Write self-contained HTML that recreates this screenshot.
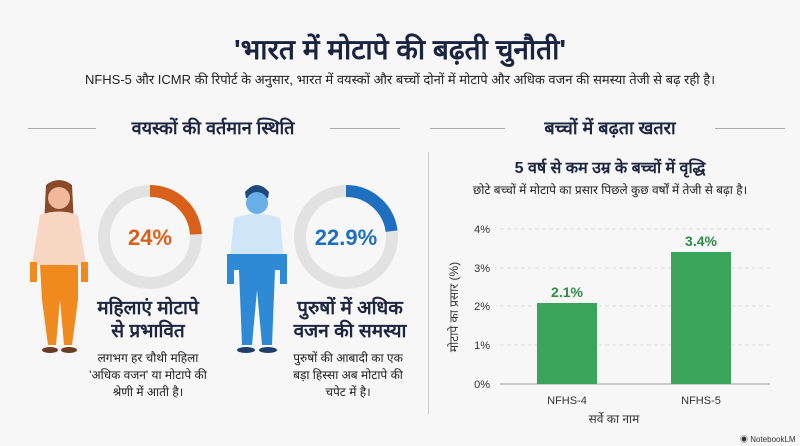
<!DOCTYPE html>
<html><head><meta charset="utf-8"><style>
body{margin:0;width:800px;height:446px;background:#f7f7f7;font-family:"Liberation Sans","Noto Sans CJK SC",sans-serif;color:#1d2540;position:relative;overflow:hidden}
.a{position:absolute;white-space:nowrap}
.c{transform:translateX(-50%);text-align:center}
</style></head><body>
<div class="a c" style="left:400px;top:30px;font-size:28px;font-weight:bold;color:#1a2340">'भारत में मोटापे की बढ़ती चुनौती'</div>
<div class="a c" style="left:400px;top:70px;font-size:13px;color:#222">NFHS-5 और ICMR की रिपोर्ट के अनुसार, भारत में वयस्कों और बच्चों दोनों में मोटापे और अधिक वजन की समस्या तेजी से बढ़ रही है।</div>
<div class="a" style="left:28px;top:128px;width:68px;height:1px;background:#aaa"></div>
<div class="a" style="left:330px;top:128px;width:70px;height:1px;background:#aaa"></div>
<div class="a c" style="left:213px;top:116px;font-size:18px;font-weight:bold">वयस्कों की वर्तमान स्थिति</div>
<div class="a" style="left:430px;top:128px;width:75px;height:1px;background:#aaa"></div>
<div class="a" style="left:715px;top:128px;width:70px;height:1px;background:#aaa"></div>
<div class="a c" style="left:610px;top:116px;font-size:18px;font-weight:bold">बच्चों में बढ़ता खतरा</div>
<div class="a" style="left:428px;top:152px;width:1px;height:262px;background:#ccc"></div>
<svg class="a" style="left:0;top:0" width="800" height="446">
<!-- woman -->
<path d="M46 185 Q59 175 72 185 L75 245 L43 245 Z" fill="#8a4a2a"/>
<circle cx="59" cy="198" r="11" fill="#f1b99a"/>
<path d="M40 215 Q59 208 78 215 L86 265 L80 265 L78 265 L78 265 L40 265 L32 265 Z" fill="#f8d6c4"/>
<path d="M40 265 L78 265 L78 300 L72 345 L64 345 L60 300 L56 345 L48 345 L42 300 Z" fill="#f08a1e"/>
<rect x="30" y="262" width="7" height="20" fill="#f08a1e"/><rect x="81" y="262" width="7" height="20" fill="#f08a1e"/>
<ellipse cx="50" cy="350" rx="8" ry="3" fill="#6a3b22"/><ellipse cx="69" cy="350" rx="8" ry="3" fill="#6a3b22"/>
<!-- man -->
<path d="M245 192 Q257 178 269 192 L268 198 L246 198 Z" fill="#1d4a7a"/>
<circle cx="257" cy="203" r="11" fill="#6aaee8"/>
<path d="M234 218 Q257 210 280 218 L285 270 L229 270 Z" fill="#cfe6f8"/>
<path d="M231 254 L283 254 L283 270 L275 270 L272 345 L262 345 L257 290 L252 345 L242 345 L239 270 L231 270 Z" fill="#2f8ad6"/>
<rect x="227" y="254" width="7" height="30" fill="#2f8ad6"/><rect x="280" y="254" width="7" height="30" fill="#2f8ad6"/>
<ellipse cx="246" cy="350" rx="9" ry="3" fill="#1d3f6a"/><ellipse cx="268" cy="350" rx="9" ry="3" fill="#1d3f6a"/>
<!-- donuts -->
<circle cx="150" cy="237" r="46" fill="none" stroke="#e2e2e2" stroke-width="12"/>
<circle cx="150" cy="237" r="46" fill="none" stroke="#d9601a" stroke-width="12" stroke-dasharray="69.4 300" transform="rotate(-90 150 237)"/>
<circle cx="346" cy="237" r="46" fill="none" stroke="#e2e2e2" stroke-width="12"/>
<circle cx="346" cy="237" r="46" fill="none" stroke="#1f6fc0" stroke-width="12" stroke-dasharray="66.2 300" transform="rotate(-90 346 237)"/>
<text x="150" y="245" text-anchor="middle" font-size="22" font-weight="bold" fill="#d9601a" font-family="Liberation Sans">24%</text>
<text x="346" y="245" text-anchor="middle" font-size="22" font-weight="bold" fill="#1f6fc0" font-family="Liberation Sans">22.9%</text>
<!-- chart -->
<g stroke="#ddd" stroke-dasharray="4 3">
<line x1="500" y1="229" x2="770" y2="229"/><line x1="500" y1="268" x2="770" y2="268"/>
<line x1="500" y1="306" x2="770" y2="306"/><line x1="500" y1="345" x2="770" y2="345"/></g>
<line x1="500" y1="384" x2="770" y2="384" stroke="#999"/>
<rect x="537" y="303" width="60" height="81" fill="#3aa55a"/>
<rect x="671" y="252" width="60" height="132" fill="#3aa55a"/>
<g font-size="11" fill="#333" text-anchor="end" font-family="Liberation Sans">
<text x="490" y="233">4%</text><text x="490" y="272">3%</text><text x="490" y="310">2%</text><text x="490" y="349">1%</text><text x="490" y="388">0%</text></g>
<text x="567" y="297" text-anchor="middle" font-size="14" font-weight="bold" fill="#2e8a4a">2.1%</text>
<text x="701" y="246" text-anchor="middle" font-size="14" font-weight="bold" fill="#2e8a4a">3.4%</text>
<text x="567" y="404" text-anchor="middle" font-size="11" fill="#333">NFHS-4</text>
<text x="701" y="404" text-anchor="middle" font-size="11" fill="#333">NFHS-5</text>
<text x="614" y="423" text-anchor="middle" font-size="12" fill="#333">सर्वे का नाम</text>
<text x="0" y="0" transform="translate(458 307) rotate(-90)" text-anchor="middle" font-size="12" fill="#333">मोटापे का प्रसार (%)</text>
</svg>
<div class="a c" style="left:148px;top:297px;font-size:19px;font-weight:bold;line-height:23px">महिलाएं मोटापे<br>से प्रभावित</div>
<div class="a c" style="left:148px;top:350px;font-size:12px;line-height:17px;color:#222">लगभग हर चौथी महिला<br>'अधिक वजन' या मोटापे की<br>श्रेणी में आती है।</div>
<div class="a c" style="left:350px;top:297px;font-size:19px;font-weight:bold;line-height:23px">पुरुषों में अधिक<br>वजन की समस्या</div>
<div class="a c" style="left:348px;top:350px;font-size:12px;line-height:17px;color:#222">पुरुषों की आबादी का एक<br>बड़ा हिस्सा अब मोटापे की<br>चपेट में है।</div>
<div class="a c" style="left:610px;top:156px;font-size:16px;font-weight:bold">5 वर्ष से कम उम्र के बच्चों में वृद्धि</div>
<div class="a c" style="left:610px;top:181px;font-size:12px;color:#222">छोटे बच्चों में मोटापे का प्रसार पिछले कुछ वर्षों में तेजी से बढ़ा है।</div>
<div class="a" style="left:740px;top:434px;font-size:8px;color:#333">◉ NotebookLM</div>
</body></html>
